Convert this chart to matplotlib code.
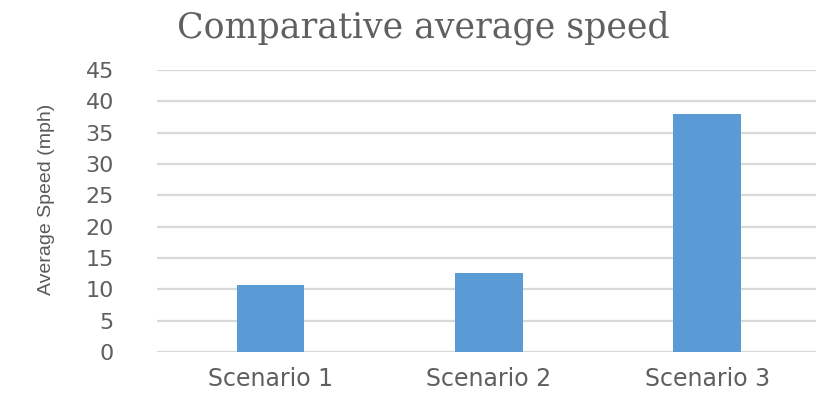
import matplotlib.pyplot as plt

# data
scenarios = ["Scenario 1", "Scenario 2", "Scenario 3"]
avg_speed = [10.7, 12.6, 38.0]
yticks = [0, 5, 10, 15, 20, 25, 30, 35, 40, 45]

fig = plt.figure(figsize=(8.18, 3.94), dpi=100)
ax = fig.add_axes([0.192, 0.107, 0.806, 0.715])

ax.bar(scenarios, avg_speed, width=0.31, color="#5b9bd5", zorder=3)

ax.set_ylim(0, 45)
ax.set_xlim(-0.52, 2.5)
ax.set_yticks(yticks)
ax.grid(axis="y", color="#d9d9d9", linewidth=1.6, zorder=0)
for s in ax.spines.values():
    s.set_visible(False)
ax.tick_params(axis="both", length=0, colors="#5f5f5f")
ax.tick_params(axis="y", labelsize=16, pad=31)
ax.tick_params(axis="x", labelsize=17, pad=11)

ax.set_ylabel("Average Speed (mph)", fontsize=14, color="#595959",
              family="Liberation Sans")
ax.yaxis.set_label_coords(-0.155, 0.54)
fig.text(0.518, 0.929, "Comparative average speed", ha="center", va="center",
         fontsize=25, color="#606060", family="DejaVu Serif")

fig.savefig("out.png", dpi=100)
